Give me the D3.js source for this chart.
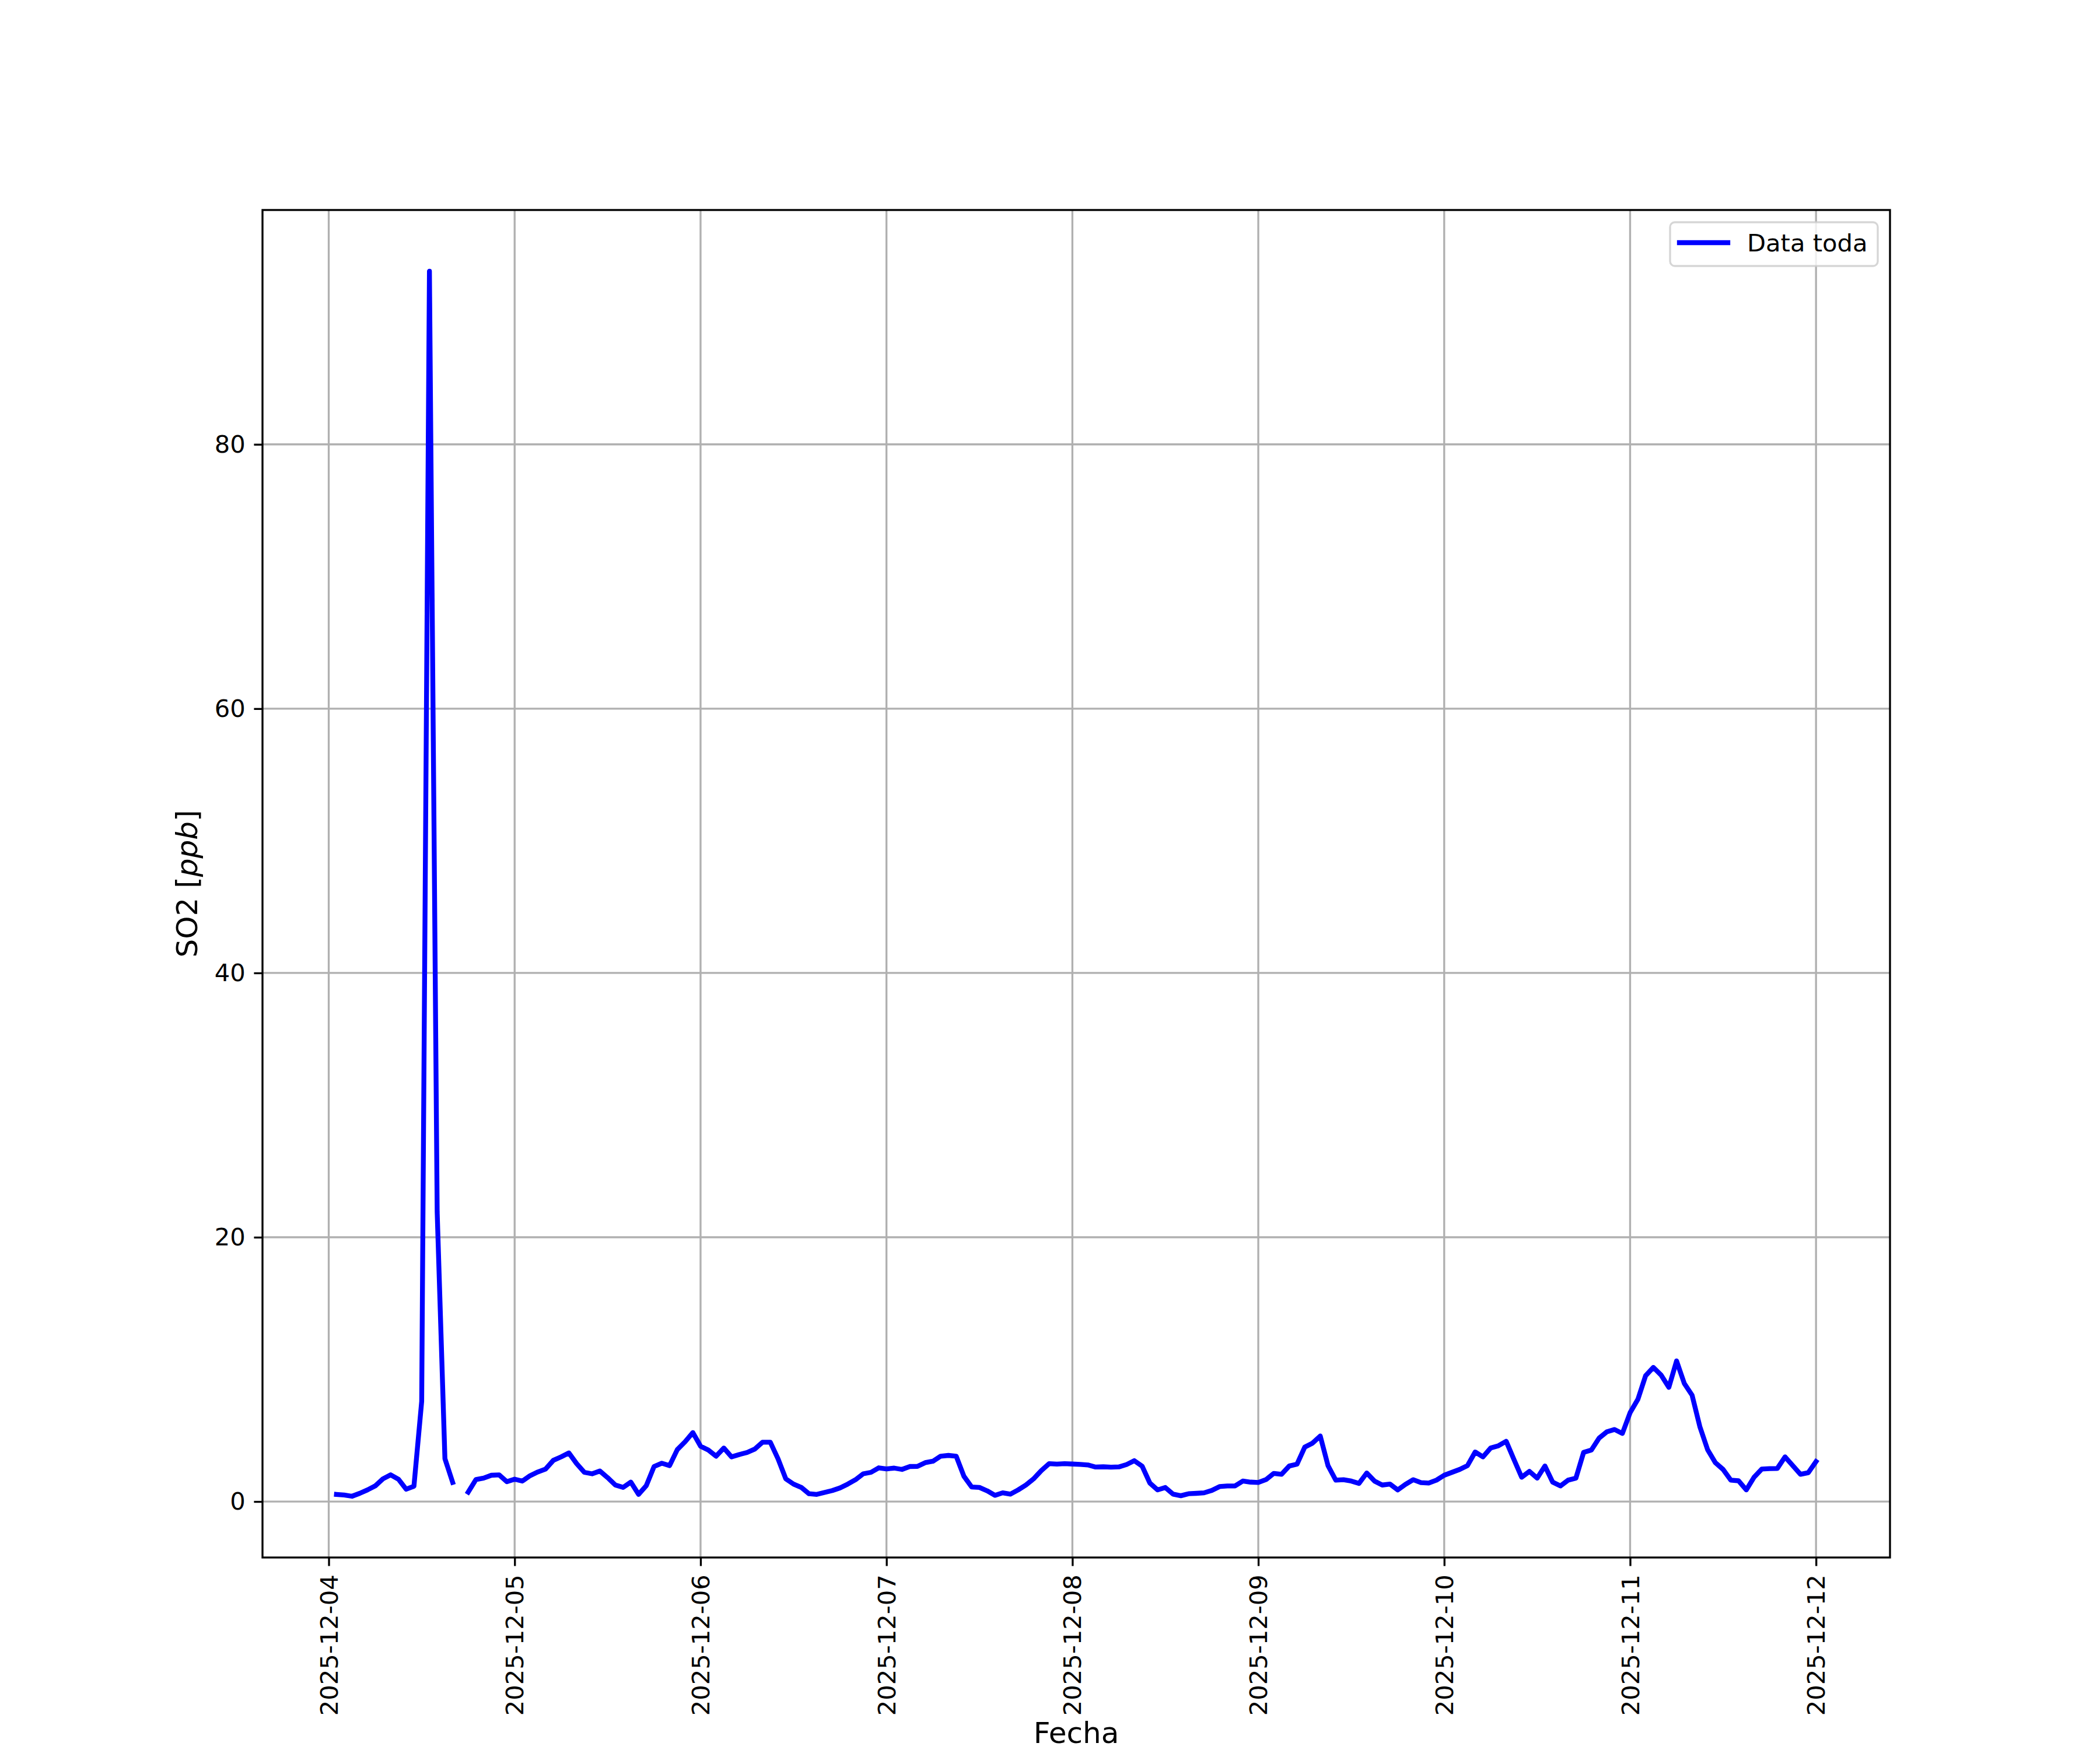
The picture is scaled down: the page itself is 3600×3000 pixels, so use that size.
<!DOCTYPE html>
<html>
<head>
<meta charset="utf-8">
<script src="https://cdn.jsdelivr.net/npm/d3@7"></script>
<style>
	body { margin: 0; background: #ffffff; }
	text { font-family: "DejaVu Sans", sans-serif; }
</style>
</head>
<body>
<div id="chart"></div>
<script>

///////////////////////////////////////////////////////////////////////////
////////////////////////////////// Data ///////////////////////////////////
///////////////////////////////////////////////////////////////////////////

//Hourly SO2 readings, first one at 2025-12-04 01:00, null = no reading
var startTime = "2025-12-04T01:00:00Z"
var so2Values = [
	0.54, 0.49, 0.40, 0.62, 0.88, 1.18, 1.72, 2.02, 1.69, 0.93, 1.16, 7.58,
	93.1, 21.9, 3.24, 1.45, null, 0.71, 1.66, 1.77, 1.99, 2.02, 1.50, 1.69,
	1.55, 1.96, 2.24, 2.46, 3.12, 3.38, 3.68, 2.87, 2.21, 2.10, 2.31, 1.81,
	1.25, 1.07, 1.47, 0.54, 1.21, 2.65, 2.90, 2.72, 3.93, 4.52, 5.22, 4.19,
	3.90, 3.43, 4.05, 3.38, 3.56, 3.71, 3.97, 4.49, 4.49, 3.24, 1.72, 1.32,
	1.07, 0.59, 0.54, 0.69, 0.83, 1.03, 1.32, 1.65, 2.10, 2.21, 2.55, 2.47,
	2.53, 2.43, 2.65, 2.66, 2.94, 3.05, 3.43, 3.49, 3.43, 1.91, 1.10, 1.07,
	0.81, 0.47, 0.66, 0.56, 0.88, 1.25, 1.72, 2.35, 2.87, 2.83, 2.87, 2.84,
	2.81, 2.77, 2.61, 2.63, 2.60, 2.62, 2.80, 3.09, 2.68, 1.40, 0.88, 1.06,
	0.56, 0.44, 0.59, 0.62, 0.66, 0.84, 1.13, 1.18, 1.18, 1.55, 1.47, 1.44,
	1.66, 2.13, 2.06, 2.69, 2.83, 4.12, 4.42, 4.96, 2.72, 1.62, 1.65, 1.55,
	1.37, 2.16, 1.55, 1.25, 1.32, 0.88, 1.30, 1.65, 1.43, 1.40, 1.62, 1.99,
	2.21, 2.43, 2.72, 3.75, 3.38, 4.05, 4.22, 4.56, 3.19, 1.84, 2.28, 1.77,
	2.69, 1.47, 1.18, 1.62, 1.77, 3.72, 3.90, 4.80, 5.28, 5.45, 5.15, 6.73,
	7.73, 9.52, 10.15, 9.57, 8.64, 10.64, 8.93, 8.05, 5.67, 3.93, 2.94, 2.43,
	1.62, 1.57, 0.88, 1.84, 2.46, 2.49, 2.50, 3.38, 2.72, 2.06, 2.18, 3.02
]
var yTickValues = [0, 20, 40, 60, 80]
var seriesName = "Data toda"
var xTitle = "Fecha"

///////////////////////////////////////////////////////////////////////////
//////////////////////////// Set up the svg ///////////////////////////////
///////////////////////////////////////////////////////////////////////////

var width = 3600
var height = 3000
var pt = 300 / 72 //points to pixels at 300 dpi

var margin = { left: 450, right: 360, top: 360, bottom: 330 }
var innerW = width - margin.left - margin.right
var innerH = height - margin.top - margin.bottom

var svg = d3.select("#chart").append("svg")
	.attr("width", width)
	.attr("height", height)
	.style("background", "#ffffff")

var g = svg.append("g")
	.attr("transform", `translate(${margin.left},${margin.top})`)

var t0 = new Date(startTime)
var data = so2Values.map((v, i) => ({ date: d3.utcHour.offset(t0, i), value: v }))

///////////////////////////////////////////////////////////////////////////
/////////////////////////////// Scales ////////////////////////////////////
///////////////////////////////////////////////////////////////////////////

//matplotlib style 5% margins around the data
var xExt = d3.extent(data, d => d.date)
var xPad = (xExt[1] - xExt[0]) * 0.05
var yExt = d3.extent(data.filter(d => d.value != null), d => d.value)
var yPad = (yExt[1] - yExt[0]) * 0.05

var xScale = d3.scaleUtc()
	.domain([new Date(+xExt[0] - xPad), new Date(+xExt[1] + xPad)])
	.range([0, innerW])

var yScale = d3.scaleLinear()
	.domain([yExt[0] - yPad, yExt[1] + yPad])
	.range([innerH, 0])

///////////////////////////////////////////////////////////////////////////
//////////////////////////////// Grid /////////////////////////////////////
///////////////////////////////////////////////////////////////////////////

var xTicks = d3.utcDay.range(d3.utcDay.ceil(xScale.domain()[0]), xScale.domain()[1])

g.append("g").selectAll("line")
	.data(xTicks)
	.enter().append("line")
	.attr("x1", d => xScale(d)).attr("x2", d => xScale(d))
	.attr("y1", 0).attr("y2", innerH)
	.style("stroke", "#b0b0b0")
	.style("stroke-width", 0.8 * pt)

g.append("g").selectAll("line")
	.data(yTickValues)
	.enter().append("line")
	.attr("x1", 0).attr("x2", innerW)
	.attr("y1", d => yScale(d)).attr("y2", d => yScale(d))
	.style("stroke", "#b0b0b0")
	.style("stroke-width", 0.8 * pt)

///////////////////////////////////////////////////////////////////////////
//////////////////////////////// Line /////////////////////////////////////
///////////////////////////////////////////////////////////////////////////

var line = d3.line()
	.defined(d => d.value != null)
	.x(d => xScale(d.date))
	.y(d => yScale(d.value))

g.append("path")
	.datum(data)
	.attr("d", line)
	.style("fill", "none")
	.style("stroke", "#0000ff")
	.style("stroke-width", 2 * pt)
	.style("stroke-linejoin", "round")
	.style("stroke-linecap", "square")

///////////////////////////////////////////////////////////////////////////
//////////////////////////////// Axes /////////////////////////////////////
///////////////////////////////////////////////////////////////////////////

var tickLen = 3.5 * pt
var fontSize = 10 * pt

var xAxis = g.append("g")
	.attr("transform", `translate(0,${innerH})`)
	.call(d3.axisBottom(xScale)
		.tickValues(xTicks)
		.tickFormat(d3.utcFormat("%Y-%m-%d"))
		.tickSize(tickLen)
		.tickPadding(tickLen)
		.tickSizeOuter(0))

xAxis.selectAll("text")
	.attr("transform", "rotate(-90)")
	.attr("x", -2 * tickLen)
	.attr("y", 0)
	.attr("dy", "0.35em")
	.style("text-anchor", "end")

var yAxis = g.append("g")
	.call(d3.axisLeft(yScale)
		.tickValues(yTickValues)
		.tickFormat(d3.format("d"))
		.tickSize(tickLen)
		.tickPadding(tickLen)
		.tickSizeOuter(0))

;[xAxis, yAxis].forEach(function(ax) {
	ax.select(".domain").remove()
	ax.attr("font-size", null).attr("font-family", null)
	ax.selectAll("line").style("stroke", "#000000").style("stroke-width", 0.8 * pt)
	ax.selectAll("text").style("font-size", fontSize + "px").style("fill", "#000000")
})

//Frame
g.append("rect")
	.attr("width", innerW)
	.attr("height", innerH)
	.style("fill", "none")
	.style("stroke", "#000000")
	.style("stroke-width", 0.8 * pt)

//Axis titles
svg.append("text")
	.attr("x", margin.left + innerW / 2)
	.attr("y", 2988)
	.style("text-anchor", "middle")
	.style("font-size", (12 * pt) + "px")
	.text(xTitle)

var yTitle = svg.append("text")
	.attr("transform", `translate(338,${margin.top + innerH / 2}) rotate(-90)`)
	.style("text-anchor", "middle")
	.style("font-size", (12 * pt) + "px")
yTitle.append("tspan").text("SO2 [")
yTitle.append("tspan").style("font-style", "italic").text("ppb")
yTitle.append("tspan").text("]")

///////////////////////////////////////////////////////////////////////////
/////////////////////////////// Legend ////////////////////////////////////
///////////////////////////////////////////////////////////////////////////

var legend = svg.append("g")

legend.append("rect")
	.attr("x", 2863).attr("y", 381)
	.attr("width", 356).attr("height", 75)
	.attr("rx", 8)
	.style("fill", "#ffffff").style("fill-opacity", 0.8)
	.style("stroke", "#cccccc").style("stroke-opacity", 0.8)
	.style("stroke-width", 0.8 * pt)

legend.append("line")
	.attr("x1", 2879).attr("x2", 2962)
	.attr("y1", 416).attr("y2", 416)
	.style("stroke", "#0000ff")
	.style("stroke-width", 2 * pt)
	.style("stroke-linecap", "square")

legend.append("text")
	.attr("x", 2995).attr("y", 431)
	.style("font-size", fontSize + "px")
	.text(seriesName)

</script>
</body>
</html>
